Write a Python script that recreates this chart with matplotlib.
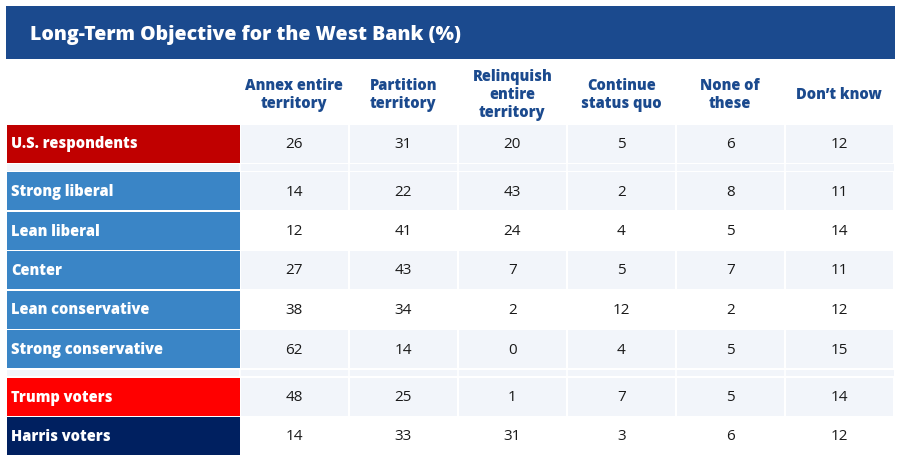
import matplotlib.pyplot as plt
from matplotlib.patches import Rectangle

plt.rcParams['font.family'] = ['Open Sans', 'DejaVu Sans']

title = "Long-Term Objective for the West Bank (%)"
columns = ["Annex entire\nterritory", "Partition\nterritory", "Relinquish\nentire\nterritory",
           "Continue\nstatus quo", "None of\nthese", "Don\u2019t know"]
groups = ["U.S. respondents", None, "Strong liberal", "Lean liberal", "Center",
          "Lean conservative", "Strong conservative", None, "Trump voters", "Harris voters"]
values = {
    "U.S. respondents": [26, 31, 20, 5, 6, 12],
    "Strong liberal": [14, 22, 43, 2, 8, 11],
    "Lean liberal": [12, 41, 24, 4, 5, 14],
    "Center": [27, 43, 7, 5, 7, 11],
    "Lean conservative": [38, 34, 2, 12, 2, 12],
    "Strong conservative": [62, 14, 0, 4, 5, 15],
    "Trump voters": [48, 25, 1, 7, 5, 14],
    "Harris voters": [14, 33, 31, 3, 6, 12],
}
label_colors = {
    "U.S. respondents": "#C00000",
    "Strong liberal": "#3A85C6",
    "Lean liberal": "#3A85C6",
    "Center": "#3A85C6",
    "Lean conservative": "#3A85C6",
    "Strong conservative": "#3A85C6",
    "Trump voters": "#FF0000",
    "Harris voters": "#002060",
}
shaded = ["U.S. respondents", "Strong liberal", "Center", "Strong conservative", "Trump voters"]

W, H = 906, 474
fig = plt.figure(figsize=(W / 100, H / 100), dpi=100)
ax = fig.add_axes([0, 0, 1, 1])
ax.set_xlim(0, W)
ax.set_ylim(H, 0)
ax.axis('off')

navy = "#1B4A8E"
light = "#F2F5FA"

# title bar
ax.add_patch(Rectangle((6, 6), 889, 52.5, color=navy, lw=0))
ax.text(30, 34.5, title, color='white', fontsize=14, fontweight='heavy', va='center', ha='left')

x_label = 7
label_w = 232.5
col_x0 = 240.5
col_step = 109
col_w = 107.5

# headers
for j, c in enumerate(columns):
    cx = col_x0 + col_step * j + col_w / 2
    ax.text(cx, 95, c, color=navy, fontsize=10.5, fontweight='heavy', ha='center', va='center',
            linespacing=1.18)

y = 124.5
for g in groups:
    if g is None:
        h = 6.5
        ax.add_patch(Rectangle((x_label, y), 887, h, color=light, lw=0))
        y += h + 1.5
        continue
    h = 38
    ax.add_patch(Rectangle((x_label, y), label_w, h, color=label_colors[g], lw=0))
    ax.text(x_label + 4, y + h / 2 + 1, g, color='white', fontsize=10.5, fontweight='heavy',
            ha='left', va='center')
    fill = light if g in shaded else 'white'
    for j, v in enumerate(values[g]):
        x = col_x0 + col_step * j
        ax.add_patch(Rectangle((x, y), col_w, h, color=fill, lw=0))
        ax.text(x + col_w / 2, y + h / 2 + 1, str(v), color='#1a1a1a', fontsize=11,
                ha='center', va='center')
    y += h + 1.5

# thin white separators in gap rows
for xs in [col_x0 + col_step * j - 0.75 for j in range(6)]:
    ax.plot([xs, xs], [164, 170.5], color='white', lw=1.2)
    ax.plot([xs, xs], [369.5, 376], color='white', lw=1.2)

fig.savefig('out.png', dpi=100)
